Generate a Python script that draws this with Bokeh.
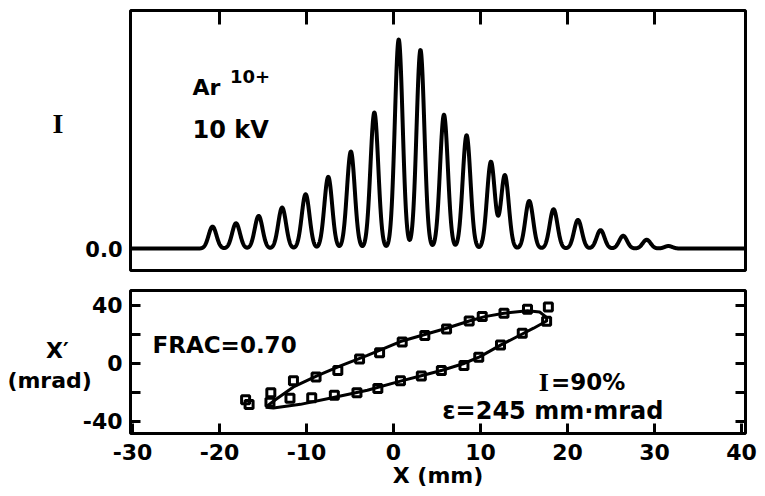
import numpy as np
from bokeh.plotting import figure
from bokeh.layouts import column
from bokeh.models import FixedTicker, LinearAxis, Label, Range1d, AllLabels
from bokeh.embed import file_html
from bokeh.resources import INLINE

# ---- data ----
# upper panel: beamlet peaks (position in mm, relative intensity)
peak_pos = [-20.8, -18.1, -15.5, -12.8, -10.1, -7.5, -4.9, -2.2, 0.6, 3.1, 5.8,
            8.4, 11.2, 12.8, 15.6, 18.4, 21.2, 23.8, 26.4, 29.1, 31.6]
peak_height = [0.105, 0.121, 0.156, 0.196, 0.26, 0.343, 0.464, 0.651, 1.0, 0.95, 0.64,
               0.542, 0.415, 0.351, 0.228, 0.188, 0.137, 0.088, 0.061, 0.042, 0.012]
peak_sigma = 0.45

# lower panel: measured emittance points (X mm, X' mrad)
pts_x = [-17.0, -14.1, -11.5, -8.9, -6.4, -3.9, -1.6, 1.0, 3.6, 6.1, 8.7, 10.2, 12.7, 15.4, 17.8,
         17.6, 14.8, 12.3, 9.8, 8.1, 5.5, 3.2, 0.8, -1.8, -4.2, -6.8, -9.4, -11.9, -14.2, -16.6]
pts_y = [-25.4, -20.5, -12.2, -9.6, -5.2, 2.7, 7.0, 14.5, 18.9, 23.4, 29.0, 32.0, 34.3, 37.0, 38.6,
         28.8, 20.5, 12.5, 4.0, -1.7, -5.2, -9.0, -12.3, -17.5, -20.5, -22.2, -24.0, -24.3, -27.0, -28.6]

# fitted emittance contour (FRAC = 0.70)
cont_x = [-14.7, -13.5, -11.5, -8.8, -6.1, -3.0, 0.8, 3.5, 6.0, 8.7, 10.5, 12.7, 15.4, 16.8, 17.6,
          17.6, 16.1, 14.8, 12.3, 9.9, 8.0, 5.6, 3.3, 0.8, -3.0, -6.9, -10.7, -13.8, -14.7]
cont_y = [-30.5, -25.0, -16.5, -8.8, -2.0, 5.2, 14.8, 19.5, 23.8, 29.0, 32.0, 34.3, 36.0, 35.2, 31.5,
          29.0, 24.0, 20.0, 12.3, 4.2, -0.5, -5.0, -8.6, -12.5, -18.8, -23.8, -28.5, -31.0, -30.5]

x_ticks = [-30, -20, -10, 0, 10, 20, 30, 40]
x_tick_labels = ["-30", "-20", "-10", "0", "10", "20", "30", "40"]
top_ticks = [-20, -10, 0, 10, 20, 30]
y_ticks = [-40, -20, 0, 20, 40]
y_label_ticks = [-40, 0, 40]
y_tick_labels = ["-40", "0", "40"]

FONT = "DejaVu Sans"
XR = (-30.23, 40.46)
NB = "\u00a0"


def hide_labels(ax):
    ax.major_label_text_font_size = "0px"
    ax.major_label_text_color = None
    ax.major_label_standoff = 0


def style_ticks(ax, ticks, length):
    ax.ticker = FixedTicker(ticks=ticks)
    ax.major_tick_in = length
    ax.major_tick_out = 0
    ax.major_tick_line_width = 3
    ax.major_tick_line_color = "black"
    ax.minor_tick_line_color = None
    ax.axis_line_color = None


def label_axis(ax, ticks, overrides, size, standoff, font=FONT):
    ax.ticker = FixedTicker(ticks=ticks)
    ax.major_label_overrides = overrides
    ax.major_tick_in = 0
    ax.major_tick_out = 0
    ax.major_tick_line_color = None
    ax.minor_tick_line_color = None
    ax.axis_line_color = None
    ax.major_label_text_font = font
    ax.major_label_text_font_style = "bold"
    ax.major_label_text_font_size = size
    ax.major_label_text_color = "black"
    ax.major_label_standoff = standoff
    ax.major_label_policy = AllLabels()


def lab(p, x, y, text, size, font=FONT):
    p.add_layout(Label(x=x, y=y, text=text, text_font=font, text_font_style="bold",
                       text_font_size=size, text_color="black", text_align="left",
                       text_baseline="alphabetic"))


# ---- upper panel ----
xs = np.linspace(XR[0], XR[1], 3000)
ys = np.zeros_like(xs)
for c, h in zip(peak_pos, peak_height):
    ys += h * np.exp(-0.5 * ((xs - c) / peak_sigma) ** 2)

p1 = figure(width=765, height=280, output_backend="svg", toolbar_location=None,
            x_range=Range1d(*XR), y_range=Range1d(-0.105, 1.139),
            x_axis_location="above",
            min_border_left=130, min_border_right=20, min_border_top=10, min_border_bottom=10)
p1.line(xs, ys, line_width=4, line_color="black", line_join="round")
p1.xgrid.grid_line_color = None
p1.ygrid.grid_line_color = None
p1.outline_line_color = "black"
p1.outline_line_width = 3

xa = p1.xaxis[0]
style_ticks(xa, top_ticks, 14)
hide_labels(xa)

label_axis(p1.yaxis[0], [0], {0: "0.0"}, "21px", 8)
ia = LinearAxis()
label_axis(ia, [0.6], {0.6: "I"}, "28px", 19, font="Liberation Serif")
p1.add_layout(ia, "left")

lab(p1, -23.1, 0.770, "Ar", "22px")
lab(p1, -18.8, 0.822, "10+", "18px")
lab(p1, -23.1, 0.569, "10 kV", "24px")

# ---- lower panel ----
p2 = figure(width=765, height=216, output_backend="svg", toolbar_location=None,
            x_range=Range1d(*XR), y_range=Range1d(-48.6, 50.0),
            min_border_left=130, min_border_right=20, min_border_top=10, min_border_bottom=63)
p2.line(cont_x, cont_y, line_width=3, line_color="black", line_join="round")
p2.scatter(pts_x, pts_y, marker="square", size=8, fill_color=None,
           line_color="black", line_width=3)
p2.xgrid.grid_line_color = None
p2.ygrid.grid_line_color = None
p2.outline_line_color = "black"
p2.outline_line_width = 3

bx = p2.xaxis[0]
style_ticks(bx, x_ticks, 10)
bx.major_label_overrides = dict(zip(x_ticks, x_tick_labels))
bx.major_label_text_font = FONT
bx.major_label_text_font_style = "bold"
bx.major_label_text_font_size = "22px"
bx.major_label_text_color = "black"
bx.major_label_standoff = 10
bx.major_label_policy = AllLabels()
bx.axis_label = "X (mm)"
bx.axis_label_text_font = FONT
bx.axis_label_text_font_style = "bold"
bx.axis_label_text_font_size = "22px"
bx.axis_label_text_color = "black"
bx.axis_label_standoff = 0

# inner left axis: tick marks only
ty = p2.yaxis[0]
style_ticks(ty, y_ticks, 10)
hide_labels(ty)

# outer left axis: numbers and the axis title
ly_over = dict(zip(y_label_ticks, y_tick_labels))
ly_over[8.6] = "X\u2032" + NB * 7
ly_over[-12.0] = "(mrad)" + NB * 4
ly = LinearAxis()
label_axis(ly, y_label_ticks + [8.6, -12.0], ly_over, "22px", 8)
p2.add_layout(ly, "left")

ry = LinearAxis()
style_ticks(ry, y_ticks, 10)
hide_labels(ry)
p2.add_layout(ry, "right")

lab(p2, -27.7, 12.1, "FRAC=0.70", "23px")
lab(p2, 16.7, -13.4, "I", "26px", font="Liberation Serif")
lab(p2, 18.1, -13.4, "=90%", "23px")
lab(p2, 5.6, -32.8, "\u03b5=245 mm\u00b7mrad", "24px")

layout = column(p1, p2, spacing=0)
open("out.html", "w").write(file_html(layout, INLINE))
